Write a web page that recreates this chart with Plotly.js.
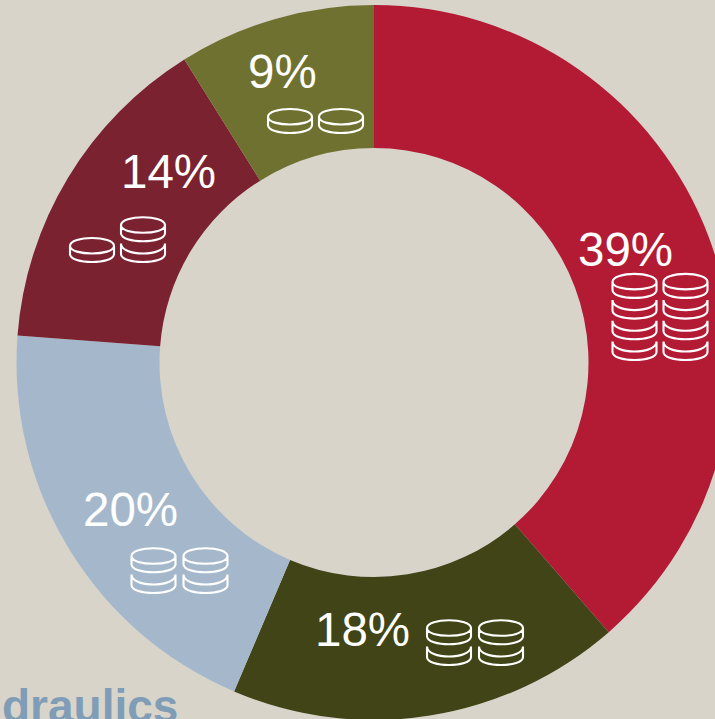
<!DOCTYPE html>
<html><head><meta charset="utf-8">
<script src="https://cdn.plot.ly/plotly-3.0.1.min.js"></script>
<style>html,body{margin:0;padding:0;width:715px;height:719px;overflow:hidden;background:#d8d4ca}</style>
</head><body><div id="chart"></div>
<script>
const shares = [38.6, 17.8, 19.8, 14.9, 8.9];
const shareLabels = ['39%', '18%', '20%', '14%', '9%'];
const sliceColors = ['#b31b34', '#404416', '#a5b8cb', '#7b2230', '#6f7130'];
const coinCounts = [[4,4],[2,2],[2,2],[1,2],[1,1]];
const labelX = [625.5, 362.5, 130.5, 168.5, 282];
const labelY = [250, 629, 509.5, 172, 71];
const stackX = [[634.5,685.5],[449,501],[153.5,205.5],[92,143],[290,341]];
const stackBottom = [360,665,593,262,133];

const W = 748, H = 724;
const px = x => x / W, py = y => 1 - y / H;
const k43 = 4 / 3;
const coinPath = (isTop) => {
  const rx = 22, ry = 8;
  const ends = isTop ? -16 : -18.5;
  const frontPeak = -8.5;
  const frontDepth = frontPeak - ends;
  const inv = y => (-y).toFixed(2);
  let p = 'M' + (-rx) + ',' + inv(ends) +
    ' L' + (-rx) + ',' + inv(-8) +
    ' C' + (-rx) + ',' + inv(-8 + ry * k43) + ' ' + rx + ',' + inv(-8 + ry * k43) + ' ' + rx + ',' + inv(-8) +
    ' L' + rx + ',' + inv(ends) +
    ' C' + rx + ',' + inv(ends + frontDepth * k43) + ' ' + (-rx) + ',' + inv(ends + frontDepth * k43) + ' ' + (-rx) + ',' + inv(ends);
  if (isTop) {
    p += ' C' + (-rx) + ',' + inv(ends - ry * k43) + ' ' + rx + ',' + inv(ends - ry * k43) + ' ' + rx + ',' + inv(ends);
  }
  return p;
};
const shapes = [];
coinCounts.forEach((stacks, i) => stacks.forEach((n, j) => {
  for (let k = 0; k < n; k++) {
    shapes.push({
      type: 'path', xref: 'paper', yref: 'paper', xsizemode: 'pixel', ysizemode: 'pixel',
      xanchor: px(stackX[i][j]), yanchor: py(stackBottom[i] - k * 20.7),
      path: coinPath(k === n - 1),
      line: {color: '#ffffff', width: 2.1}, layer: 'above'
    });
  }
}));
const annotations = shareLabels.map((t, i) => ({
  text: t, x: px(labelX[i]), y: py(labelY[i]), xref: 'paper', yref: 'paper',
  xanchor: 'center', yanchor: 'middle', showarrow: false,
  font: {family: 'Liberation Sans, Arial, sans-serif', size: 47.5, color: '#ffffff'}
}));
annotations.push({
  text: '<b>draulics</b>', x: px(179.5), y: py(706), xref: 'paper', yref: 'paper',
  xanchor: 'right', yanchor: 'middle', showarrow: false,
  font: {family: 'Liberation Sans, Arial, sans-serif', size: 46, color: '#7f9db7'}
});
const r = 357.5;
Plotly.newPlot('chart', [{
  type: 'pie', values: shares, labels: shareLabels, hole: 0.6, sort: false, direction: 'clockwise', rotation: 0,
  marker: {colors: sliceColors, line: {width: 0}},
  textinfo: 'none', hoverinfo: 'skip', showlegend: false,
  domain: {x: [(374 - r) / W, (374 + r) / W], y: [1 - (362.5 + r) / H, 1 - (362.5 - r) / H]}
}], {
  width: W, height: H, margin: {l: 0, r: 0, t: 0, b: 0, pad: 0}, autosize: false,
  paper_bgcolor: '#d8d4ca', plot_bgcolor: '#d8d4ca', showlegend: false,
  shapes, annotations
}, {staticPlot: true, displayModeBar: false});
</script></body></html>
